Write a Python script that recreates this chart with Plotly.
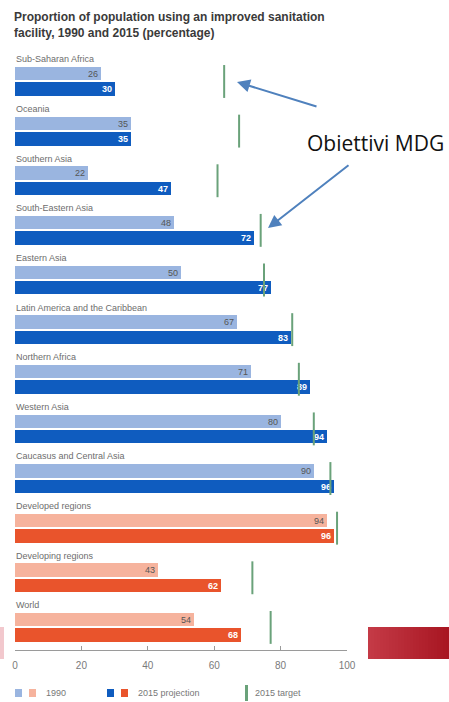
import plotly.graph_objects as go

# Regions and values (percent of population using improved sanitation)
regions = [
    "Sub-Saharan Africa", "Oceania", "Southern Asia", "South-Eastern Asia",
    "Eastern Asia", "Latin America and the Caribbean", "Northern Africa",
    "Western Asia", "Caucasus and Central Asia", "Developed regions",
    "Developing regions", "World",
]
v1990 = [26, 35, 22, 48, 50, 67, 71, 80, 90, 94, 43, 54]
v2015 = [30, 35, 47, 72, 77, 83, 89, 94, 96, 96, 62, 68]
target2015 = [63, 67.5, 61, 74, 75, 83.5, 85.5, 90, 95, 97, 71.5, 77]
aggregate = [False] * 9 + [True] * 3
x_ticks = [0, 20, 40, 60, 80, 100]

W, H = 449, 702
ML, MR, MT, MB = 15, 102, 45, 52
PW, PH = W - ML - MR, H - MT - MB


def px(x):
    return (x - ML) / PW


def py(y):
    return (H - MB - y) / PH


BLUE_LIGHT, BLUE_DARK = "#9ab5e0", "#0f5cbf"
ORANGE_LIGHT, ORANGE_DARK = "#f6b39d", "#e9542c"
GREEN = "#6aa27a"
GREY = "#6d6d6d"

n = len(regions)
grp = list(range(n))
y1990 = [g + 0.29 for g in grp]
y2015 = [g + 0.60 for g in grp]
ytarget = [g + 0.445 for g in grp]

fig = go.Figure()
fig.add_trace(go.Bar(
    x=v1990, y=y1990, orientation="h", width=0.27,
    marker=dict(color=[ORANGE_LIGHT if a else BLUE_LIGHT for a in aggregate], line_width=0),
    text=[str(v) for v in v1990], textposition="inside", insidetextanchor="end",
    textangle=0, constraintext="none",
    textfont=dict(family="Liberation Sans", size=9, color="#555555"),
    hoverinfo="skip", showlegend=False,
))
fig.add_trace(go.Bar(
    x=v2015, y=y2015, orientation="h", width=0.27,
    marker=dict(color=[ORANGE_DARK if a else BLUE_DARK for a in aggregate], line_width=0),
    text=["<b>%d</b>" % v for v in v2015], textposition="inside", insidetextanchor="end",
    textangle=0, constraintext="none",
    textfont=dict(family="Liberation Sans", size=9, color="white"),
    hoverinfo="skip", showlegend=False,
))
# 2015 target ticks spanning both bars of each region
fig.add_trace(go.Scatter(
    x=target2015, y=ytarget, mode="markers",
    marker=dict(symbol="line-ns", size=23.5, line=dict(color=GREEN, width=2)),
    hoverinfo="skip", showlegend=False,
))

annotations = []
# Region labels above each pair of bars
for g, name in enumerate(regions):
    annotations.append(dict(
        x=0, y=g, xref="x", yref="y", text=name, showarrow=False,
        xanchor="left", yanchor="middle", xshift=-1,
        font=dict(family="Liberation Sans", size=9, color=GREY),
    ))

# Title
annotations.append(dict(
    x=px(12), y=py(8), xref="paper", yref="paper", xanchor="left", yanchor="top",
    align="left", showarrow=False,
    text="<b>Proportion of population using an improved sanitation<br>facility, 1990 and 2015 (percentage)</b>",
    font=dict(family="Liberation Sans", size=12, color="#3a3a3a"),
))

# Callout
annotations.append(dict(
    x=px(375), y=py(143), xref="paper", yref="paper", showarrow=False,
    xanchor="center", yanchor="middle",
    text="Obiettivi MDG", font=dict(family="Open Sans", size=21, color="#111111"),
))
for (hx, hy, tx, ty) in [(237, 82, 318, 107), (268, 228, 350, 164)]:
    annotations.append(dict(
        x=px(hx), y=py(hy), xref="paper", yref="paper", text="",
        showarrow=True, ax=tx - hx, ay=ty - hy, axref="pixel", ayref="pixel",
        arrowhead=2, arrowsize=1.3, arrowwidth=2, arrowcolor="#4f81bd",
    ))

# Legend
leg_font = dict(family="Liberation Sans", size=9, color="#777777")
annotations += [
    dict(x=px(44), y=py(693), xref="paper", yref="paper", xanchor="left", yanchor="middle",
         showarrow=False, text="1990", font=leg_font),
    dict(x=px(136), y=py(693), xref="paper", yref="paper", xanchor="left", yanchor="middle",
         showarrow=False, text="2015 projection", font=leg_font),
    dict(x=px(253), y=py(693), xref="paper", yref="paper", xanchor="left", yanchor="middle",
         showarrow=False, text="2015 target", font=leg_font),
]

shapes = []
for (x0, c) in [(15, BLUE_LIGHT), (29, ORANGE_LIGHT), (107, BLUE_DARK), (121, ORANGE_DARK)]:
    shapes.append(dict(type="rect", xref="paper", yref="paper",
                       x0=px(x0), x1=px(x0 + 7), y0=py(697), y1=py(689),
                       fillcolor=c, line_width=0))
shapes.append(dict(type="rect", xref="paper", yref="paper",
                   x0=px(245), x1=px(248), y0=py(701), y1=py(685),
                   fillcolor=GREEN, line_width=0))

# Slide decoration: red band at the right (left-to-right shading), pale strip at the left
x_start, x_end, n_strips = 368, 449, 27
c0, c1 = (196, 58, 70), (168, 22, 34)
step = (x_end - x_start) / n_strips
for i in range(n_strips):
    t = i / (n_strips - 1)
    rgb = tuple(round(a + (b - a) * t) for a, b in zip(c0, c1))
    shapes.append(dict(type="rect", xref="paper", yref="paper",
                       x0=px(x_start + i * step), x1=px(x_start + (i + 1) * step + 0.6),
                       y0=py(659), y1=py(627), fillcolor="rgb(%d,%d,%d)" % rgb,
                       line_width=0, layer="below"))
shapes.append(dict(type="rect", xref="paper", yref="paper",
                   x0=px(0), x1=px(4), y0=py(659), y1=py(627),
                   fillcolor="#f2c8cd", line_width=0, layer="below"))

fig.update_layout(
    width=W, height=H,
    margin=dict(l=ML, r=MR, t=MT, b=MB, pad=0),
    paper_bgcolor="white", plot_bgcolor="white",
    bargap=0, barmode="overlay",
    annotations=annotations, shapes=shapes,
    xaxis=dict(range=[0, 100], tickvals=x_ticks, ticktext=[str(t) for t in x_ticks],
               showgrid=False, zeroline=False, showline=True, linecolor="#9a9a9a",
               linewidth=1, ticks="inside", ticklen=4, tickcolor="#9a9a9a",
               ticklabelstandoff=6,
               tickfont=dict(family="Liberation Sans", size=10, color="#7a7a7a")),
    yaxis=dict(range=[11.9, -0.29], visible=False, showgrid=False, zeroline=False),
)

fig.write_html("out.html")
